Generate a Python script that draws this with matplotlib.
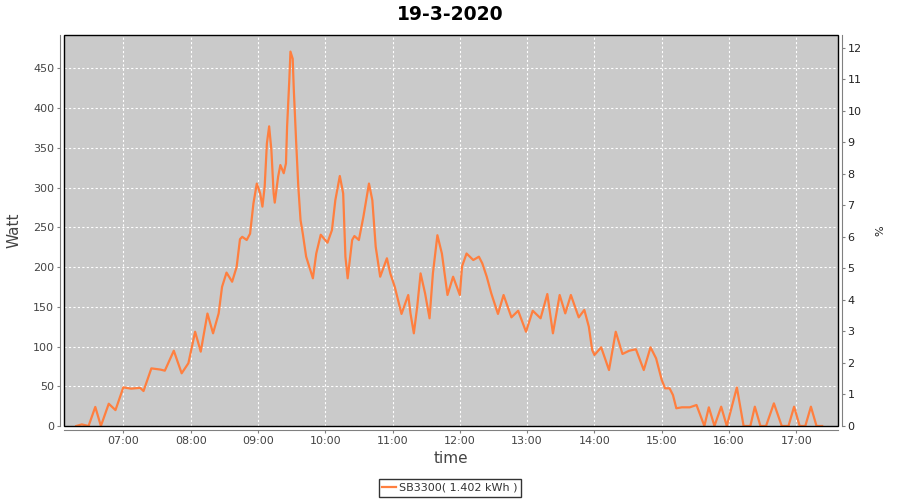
import matplotlib
matplotlib.use('Agg')
import matplotlib.pyplot as plt
import matplotlib.dates as mdates
from matplotlib.patches import Rectangle
import datetime as dt

plt.rcParams['font.family'] = ['DejaVu Sans']

title = "19-3-2020"
series_name = "SB3300( 1.402 kWh )"
date = dt.date(2020, 3, 19)

times = ["06:18", "06:23", "06:29", "06:35", "06:40", "06:47", "06:53", "07:00",
         "07:07", "07:15", "07:18", "07:25", "07:33", "07:37", "07:45", "07:52",
         "07:58", "08:04", "08:09", "08:15", "08:20", "08:25", "08:28", "08:32",
         "08:37", "08:41", "08:44", "08:46", "08:50", "08:53", "08:56", "08:59",
         "09:02", "09:04", "09:06", "09:08", "09:10", "09:12", "09:14", "09:15",
         "09:18", "09:20", "09:23", "09:25", "09:26", "09:28", "09:29", "09:31",
         "09:32", "09:34", "09:36", "09:38", "09:40", "09:43", "09:49", "09:52",
         "09:56", "10:02", "10:06", "10:09", "10:13", "10:16", "10:18", "10:20",
         "10:24", "10:26", "10:30", "10:34", "10:39", "10:42", "10:45", "10:49",
         "10:55", "10:58", "11:02", "11:08", "11:14", "11:16", "11:19", "11:22",
         "11:25", "11:29", "11:33", "11:36", "11:40", "11:44", "11:49", "11:54",
         "12:00", "12:02", "12:06", "12:12", "12:17", "12:20", "12:24", "12:28",
         "12:34", "12:39", "12:46", "12:52", "12:59", "13:05", "13:12", "13:18",
         "13:23", "13:29", "13:34", "13:39", "13:46", "13:51", "13:55", "13:58",
         "14:00", "14:06", "14:13", "14:19", "14:25", "14:31", "14:37", "14:44",
         "14:50", "14:55", "15:00", "15:03", "15:07", "15:10", "15:13", "15:18",
         "15:25", "15:31", "15:38", "15:42", "15:47", "15:53", "15:58", "16:07",
         "16:13", "16:19", "16:23", "16:28", "16:33", "16:40", "16:47", "16:53",
         "16:58", "17:03", "17:08", "17:13", "17:18", "17:23"]

watts = [0, 2, 0, 24, 0, 28, 20, 48.6,
         47, 48, 44, 72.5, 71, 69.6, 94.7, 66.3,
         79, 118.6, 93.5, 141.5, 116.6, 141.7, 175, 193,
         181.5, 200, 235, 238, 234, 242, 280, 305,
         292.6, 276, 301, 355.6, 377, 347, 292.6, 281,
         313.6, 328.3, 318, 330.4, 376.5, 436, 471, 462,
         422.6, 359.7, 301, 259, 242, 213, 185.8, 217,
         240.6, 230.6, 246.5, 284, 314.5, 292.6, 213, 185.8,
         234, 239, 234, 263, 305, 284, 225.5, 187.8,
         211, 192, 175, 141, 164.8, 141.7, 116.6, 150,
         192, 167, 135.5, 192, 240, 217, 164.8, 187.8,
         164.8, 201, 217, 208.8, 213, 204.7, 187.8, 167,
         141, 164.8, 136.7, 145, 118.6, 145, 135.5, 166,
         116.6, 164.8, 141.7, 164.8, 136.7, 146, 125, 95.6,
         89.3, 99, 70.4, 118.6, 90.6, 94.7, 96.5, 70.4,
         99, 85, 57.9, 47.4, 47.4, 39, 22.3, 23.5,
         23.5, 26.4, 0, 23.5, 0, 24.3, 0, 48.6,
         0, 0, 24.3, 0, 0, 28.5, 0, 0,
         24.3, 0, 0, 24.3, 0, 0]

left_ticks = [0, 50, 100, 150, 200, 250, 300, 350, 400, 450]
right_ticks = list(range(0, 13))
left_max = 491.9
right_max = 12.41

x = [dt.datetime.combine(date, dt.datetime.strptime(t, "%H:%M").time()) for t in times]

fig = plt.figure(figsize=(9, 5), dpi=100)
fig.patch.set_facecolor('white')
ax = fig.add_axes([0.0711, 0.148, 0.8597, 0.782])
ax.set_facecolor('#CACACA')

ax.plot(x, watts, color='#FF7F3F', lw=1.6, solid_joinstyle='round', zorder=3,
        label=series_name)

ax.set_xlim(dt.datetime(2020, 3, 19, 6, 7, 6), dt.datetime(2020, 3, 19, 17, 36, 54))
ax.set_ylim(0, left_max)
ax.set_yticks(left_ticks)
ax.xaxis.set_major_locator(mdates.HourLocator())
ax.xaxis.set_major_formatter(mdates.DateFormatter('%H:%M'))

ax.grid(True, color='white', lw=0.8, linestyle=(0, (2, 2)), zorder=1)
ax.set_axisbelow(True)

for s in ['top', 'right']:
    ax.spines[s].set_visible(False)
for s in ['left', 'bottom']:
    ax.spines[s].set_position(('outward', 3))
    ax.spines[s].set_color('#808080')
ax.tick_params(axis='both', colors='#808080', labelcolor='#444444', labelsize=8,
               length=2, width=0.8, pad=2)

ax.add_patch(Rectangle((0, 0), 1, 1, transform=ax.transAxes, fill=False,
                       edgecolor='black', lw=1.0, zorder=5, clip_on=False))

ax2 = ax.twinx()
ax2.set_ylim(0, right_max)
ax2.set_yticks(right_ticks)
for s in ['top', 'left', 'bottom']:
    ax2.spines[s].set_visible(False)
ax2.spines['right'].set_position(('outward', 3))
ax2.spines['right'].set_color('#808080')
ax2.tick_params(axis='y', colors='#808080', labelcolor='#222222', labelsize=8,
                length=2, width=0.8, pad=2)
ax2.set_ylabel('%', fontsize=8, color='#222222', labelpad=10)

ax.set_ylabel('Watt', fontsize=11, color='#444444')
ax.yaxis.set_label_coords(-0.055, 0.5)
ax.set_xlabel('time', fontsize=11, color='#444444', labelpad=4)

fig.suptitle(title, fontsize=13.5, fontweight='bold', y=0.99)

leg = fig.legend(loc='lower center', bbox_to_anchor=(0.5, 0.0), fontsize=8,
                 frameon=True, fancybox=False, handlelength=1.2, handletextpad=0.3,
                 borderpad=0.35, borderaxespad=0.3)
leg.get_frame().set_edgecolor('black')
leg.get_frame().set_linewidth(1.0)
for t in leg.get_texts():
    t.set_color('#333333')

fig.savefig('out.png', dpi=100)
